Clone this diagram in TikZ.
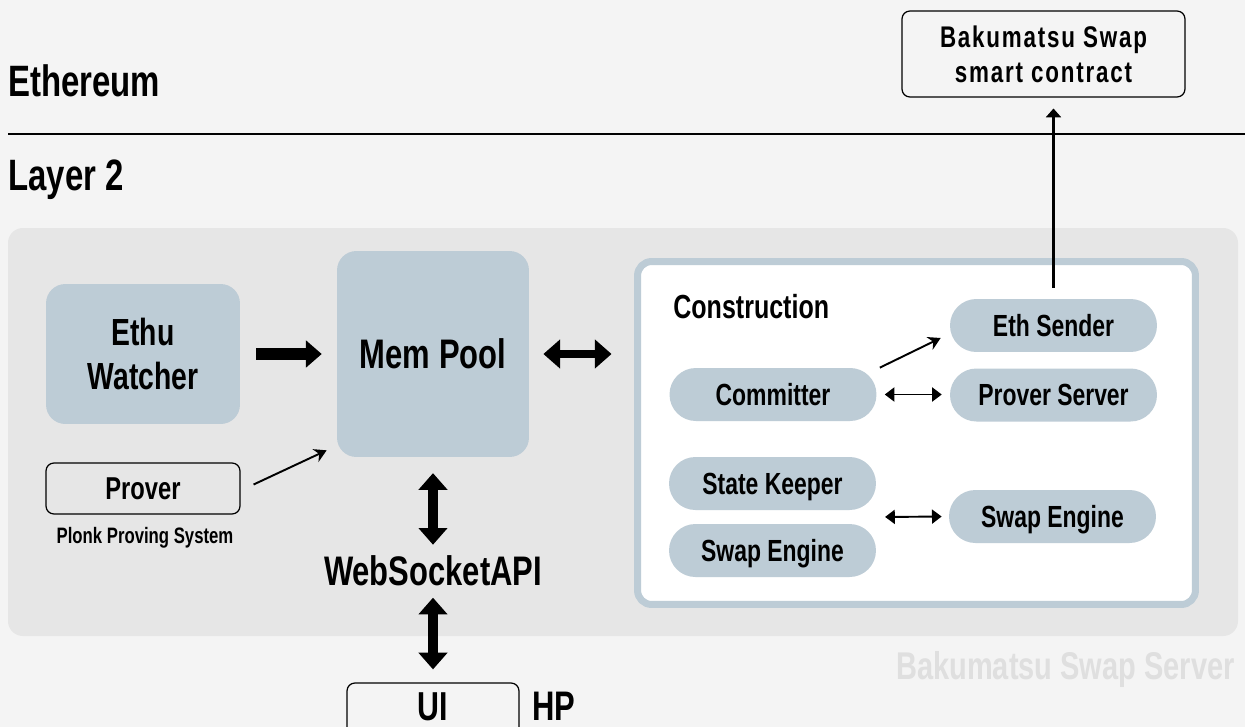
\documentclass[tikz,border=0pt]{standalone}
\usepackage{fontspec}
\setmainfont{Liberation Sans}[FakeStretch=0.75]
\usetikzlibrary{arrows.meta,calc}
\definecolor{paper}{HTML}{F4F4F4}
\definecolor{panel}{HTML}{E6E6E6}
\definecolor{slate}{HTML}{BDCCD6}
\definecolor{ghost}{HTML}{DFDFDF}
\tikzset{>=Stealth,
  title/.style={inner sep=0pt, font=\bfseries\fontsize{25pt}{30pt}\selectfont},
  bigtext/.style={inner sep=0pt, font=\bfseries\fontsize{23.5pt}{28pt}\selectfont},
  block/.style={fill=slate, rounded corners=11pt, align=center},
  pill/.style={fill=slate, rounded corners=15pt, minimum width=4.14cm, minimum height=1.06cm,
    text height=12.5pt, text depth=0pt, font=\bfseries\fontsize{17.4pt}{20pt}\selectfont},
  frame/.style={draw, line width=0.7pt, rounded corners=4.5pt},
  fat/.style={line width=6.8pt, -{Triangle[width=15pt,length=9pt]}},
  fatboth/.style={line width=#1, {Triangle[width=16pt,length=9.5pt]}-{Triangle[width=16pt,length=9.5pt]}},
  thin/.style={line width=1.1pt, -{Stealth[width=8pt,length=7pt]}},
  thinboth/.style={line width=1.1pt, {Triangle[width=8pt,length=5.5pt]}-{Triangle[width=8pt,length=5.5pt]}}
}

\begin{document}
\begin{tikzpicture}[x=0.02cm, y=-0.02cm]
    \useasboundingbox (0,0) rectangle (1245,727);
    \fill[paper] (0,0) rectangle (1245,727);
    % layers
    \node[title, anchor=base west] (eth) at (8,96) {Ethereum};
    \draw[line width=1.2pt] (8,134) -- (1245,134);
    \node[title, anchor=base west] (layer) at (8,190) {Layer 2};
    \fill[panel, rounded corners=8.5pt] (8,228) rectangle (1238,636);
    \node[anchor=base east, font=\bfseries\fontsize{22pt}{26pt}\selectfont, text=ghost, inner sep=0pt]
        (server) at (1235,679) {Bakumatsu Swap Server};
    % contract on ethereum
    \node[frame, minimum width=5.66cm, minimum height=1.72cm, align=center,
        font=\bfseries\fontsize{17pt}{19.8pt}\selectfont\addfontfeature{LetterSpace=6}]
        (contract) at (1043.5,54) {Bakumatsu Swap\\smart contract};
    % left side
    \node[block, minimum width=3.88cm, minimum height=2.8cm,
        font=\bfseries\fontsize{21.5pt}{25.5pt}\selectfont] (watcher) at (143,354) {Ethu\\Watcher};
    \node[block, minimum width=3.84cm, minimum height=4.12cm,
        font=\bfseries\fontsize{23.5pt}{28pt}\selectfont] (mempool) at (433,354) {Mem Pool};
    \node[frame, minimum width=3.88cm, minimum height=1.02cm,
        font=\bfseries\fontsize{18pt}{22pt}\selectfont] (prover) at (143,488.5) {Prover};
    \node[anchor=base, inner sep=0pt, font=\bfseries\fontsize{12.7pt}{15pt}\selectfont]
        (plonk) at (145,543) {Plonk Proving System};
    \node[bigtext, anchor=base] (ws) at (433,585) {WebSocketAPI};
    \node[frame, minimum width=3.44cm, minimum height=1.2cm, text height=16.5pt, text depth=8.5pt,
        font=\bfseries\fontsize{23pt}{28pt}\selectfont] (ui) at (433,713) {UI};
    \node[bigtext, anchor=base west] (hp) at (532,720) {HP};
    % construction
    \node[draw=slate, line width=4pt, fill=white, rounded corners=8pt,
        minimum width=11.16cm, minimum height=6.86cm] (construct) at (916.5,433) {};
    \node[anchor=base west, inner sep=0pt, font=\bfseries\fontsize{19pt}{23pt}\selectfont]
        (cons) at (673,318) {Construction};
    \foreach \name/\x/\y/\txt in {ethsender/1053.5/325.5/Eth Sender,
        proversrv/1053.5/395/Prover Server, committer/773/394.5/Committer,
        keeper/772.5/483.5/State Keeper, engineL/772.5/550.5/Swap Engine,
        engineR/1052.5/516.5/Swap Engine}
    \node[pill] (\name) at (\x,\y) {\txt};
    % connectors
    \draw[fat, shorten <=9pt, shorten >=8.5pt] (watcher) -- (mempool);
    \draw[fatboth=4.5pt, shorten <=8pt, shorten >=12.8pt] (mempool.east) -- (mempool.east -| construct.west);
    \draw[thin] ($(prover.east)+(13,-4)$) -- ($(mempool.south west)+(-10,-7)$);
    \draw[fatboth=6pt, shorten <=9pt, shorten >=5.7pt] (mempool.south) -- (ws.north);
    \draw[fatboth=6pt, shorten <=6.8pt, shorten >=7.4pt] (ws.south) -- (ui.north);
    \draw[thin] ($(committer.north east)+(3,0)$) -- ($(ethsender.west)+(-9,12.5)$);
    \draw[thinboth, shorten <=4.5pt, shorten >=4.5pt] (committer.east) -- (committer.east -| proversrv.west);
    \draw[thinboth, shorten <=5pt, shorten >=4pt] ($(keeper.south east)!0.5!(engineL.north east)$) -- (engineR.west);
    \draw[line width=1.2pt, -{Triangle[width=8.5pt,length=5pt]}, shorten <=6.2pt, shorten >=6.2pt]
        (ethsender.north) -- (ethsender.north |- contract.south);
\end{tikzpicture}
\end{document}
